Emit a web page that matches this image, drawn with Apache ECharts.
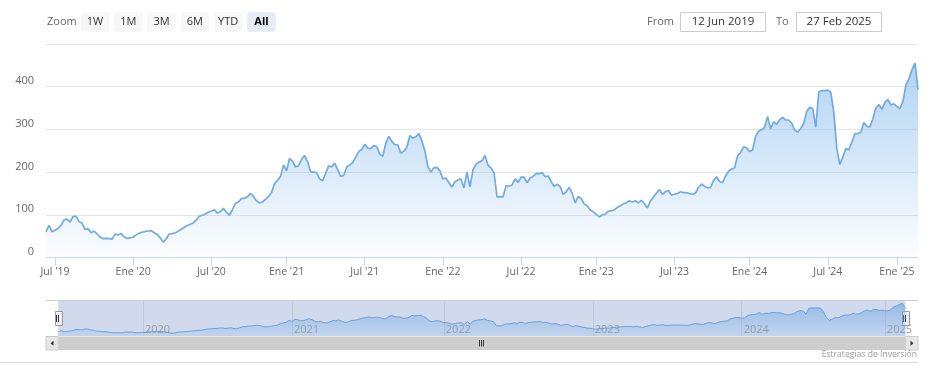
<!DOCTYPE html>
<html><head><meta charset="utf-8">
<script src="https://cdn.jsdelivr.net/npm/echarts@6/dist/echarts.min.js"></script>
<style>html,body{margin:0;padding:0;background:#fff}#c{width:934px;height:386px}</style>
</head><body><div id="c"></div>
<script>
// ---- Data (weekly-ish closing values, ordinal/trading-day axis) ----
const dates = [
'2019-06-12','2019-06-19','2019-06-26',
'2019-07-03','2019-07-10','2019-07-17','2019-07-24','2019-07-31','2019-08-07','2019-08-14','2019-08-21','2019-08-28','2019-09-04','2019-09-11','2019-09-18','2019-09-25','2019-10-02','2019-10-09','2019-10-16','2019-10-23','2019-10-30','2019-11-06','2019-11-13','2019-11-20','2019-11-27','2019-12-04','2019-12-11','2019-12-18','2019-12-26',
'2020-01-02','2020-01-09','2020-01-16','2020-01-23','2020-01-30','2020-02-06','2020-02-13','2020-02-20','2020-02-27','2020-03-05','2020-03-12','2020-03-19','2020-03-26','2020-04-02','2020-04-09','2020-04-16','2020-04-23','2020-04-30','2020-05-07','2020-05-14','2020-05-21','2020-05-28','2020-06-04','2020-06-11','2020-06-18','2020-06-25',
'2020-07-05','2020-07-12','2020-07-19','2020-07-27','2020-08-03','2020-08-10','2020-08-18','2020-08-25','2020-09-02','2020-09-09','2020-09-16','2020-09-24','2020-10-01','2020-10-08','2020-10-16','2020-10-23','2020-10-30','2020-11-07','2020-11-14','2020-11-22','2020-11-29','2020-12-06','2020-12-14','2020-12-21','2020-12-29',
'2021-01-05','2021-01-12','2021-01-19','2021-01-26','2021-02-02','2021-02-09','2021-02-16','2021-02-23','2021-03-02','2021-03-09','2021-03-16','2021-03-23','2021-03-30','2021-04-06','2021-04-13','2021-04-20','2021-04-27','2021-05-04','2021-05-11','2021-05-18','2021-05-25','2021-06-01','2021-06-08','2021-06-15','2021-06-22','2021-06-29',
'2021-07-06','2021-07-13','2021-07-20','2021-07-27','2021-08-03','2021-08-10','2021-08-17','2021-08-24','2021-08-31','2021-09-07','2021-09-14','2021-09-21','2021-09-28','2021-10-05','2021-10-12','2021-10-19','2021-10-26','2021-11-02','2021-11-09','2021-11-16','2021-11-23','2021-11-30','2021-12-07','2021-12-14','2021-12-21','2021-12-28',
'2022-01-05','2022-01-12','2022-01-19','2022-01-26','2022-02-02','2022-02-09','2022-02-16','2022-02-23','2022-03-02','2022-03-09','2022-03-16','2022-03-23','2022-03-30','2022-04-06','2022-04-13','2022-04-20','2022-04-27','2022-05-04','2022-05-11','2022-05-18','2022-05-25','2022-06-01','2022-06-08','2022-06-15','2022-06-22','2022-06-29',
'2022-07-06','2022-07-13','2022-07-20','2022-07-27','2022-08-03','2022-08-10','2022-08-17','2022-08-24','2022-08-31','2022-09-07','2022-09-14','2022-09-21','2022-09-28','2022-10-05','2022-10-12','2022-10-19','2022-10-26','2022-11-02','2022-11-09','2022-11-16','2022-11-23','2022-11-30','2022-12-07','2022-12-14','2022-12-23',
'2023-01-02','2023-01-09','2023-01-16','2023-01-23','2023-01-30','2023-02-06','2023-02-13','2023-02-20','2023-02-27','2023-03-06','2023-03-13','2023-03-20','2023-03-27','2023-04-03','2023-04-10','2023-04-17','2023-04-24','2023-05-01','2023-05-08','2023-05-15','2023-05-22','2023-05-29','2023-06-05','2023-06-12','2023-06-19','2023-06-26',
'2023-07-04','2023-07-11','2023-07-18','2023-07-26','2023-08-02','2023-08-09','2023-08-17','2023-08-24','2023-08-31','2023-09-08','2023-09-15','2023-09-22','2023-09-29','2023-10-06','2023-10-14','2023-10-21','2023-10-28','2023-11-05','2023-11-12','2023-11-19','2023-11-27','2023-12-04','2023-12-11','2023-12-19','2023-12-26',
'2024-01-02','2024-01-09','2024-01-16','2024-01-23','2024-01-30','2024-02-06','2024-02-13','2024-02-20','2024-02-27','2024-03-05','2024-03-12','2024-03-19','2024-03-26','2024-04-02','2024-04-09','2024-04-16','2024-04-23','2024-04-30','2024-05-07','2024-05-14','2024-05-21','2024-05-28','2024-06-04','2024-06-11','2024-06-18','2024-06-25',
'2024-07-05','2024-07-13','2024-07-21','2024-07-29','2024-08-06','2024-08-14','2024-08-22','2024-08-30','2024-09-07','2024-09-15','2024-09-23','2024-10-01','2024-10-09','2024-10-17','2024-10-25','2024-11-02','2024-11-10','2024-11-18','2024-11-26','2024-12-04','2024-12-12','2024-12-20','2024-12-28',
'2025-01-06','2025-01-13','2025-01-20','2025-01-27','2025-02-03','2025-02-10','2025-02-18','2025-02-27'
];
const prices = [
60,75,60,
64,68,75,88,90,83,96,97,84,80,66,67,58,62,55,48,44,45,44,43,55,53,56,48,45,46,
48,53,57,59,61,62,63,58,54,46,36,44,55,56,58,62,66,71,75,78,81,88,97,99,102,106,
109,112,104,107,115,106,99,112,127,130,138,139,142,150,143,133,128,130,136,143,152,173,181,190,217,
203,232,225,212,215,230,239,224,201,200,199,184,180,197,215,212,221,206,190,192,212,217,222,235,248,253,
265,256,255,262,260,242,237,268,284,272,264,264,244,249,258,285,280,283,290,273,250,213,200,210,211,203,
184,186,175,165,177,182,184,163,200,165,205,218,223,227,239,216,210,198,142,142,142,168,167,170,184,176,
188,188,175,186,190,197,196,199,189,191,178,166,172,166,148,154,164,150,128,143,138,125,121,111,107,
101,95,100,102,108,109,112,117,121,126,128,133,130,133,128,134,126,116,132,141,151,159,148,154,157,146,
148,150,154,152,152,150,148,151,164,172,167,163,164,180,189,178,175,191,202,207,210,238,246,259,257,
248,252,284,296,299,305,330,301,318,312,323,328,322,322,315,298,294,302,314,342,352,349,305,388,391,391,
392,387,340,255,218,235,255,252,270,290,290,294,316,307,306,325,350,358,347,364,370,357,360,
354,349,366,405,418,440,455,393
];
const monthNames = ['Ene','Feb','Mar','Abr','May','Jun','Jul','Ago','Sep','Oct','Nov','Dic'];
const labelMonths = [1, 7];
const rangeButtons = ['1W','1M','3M','6M','YTD','All'];
const selectedButton = 'All';
const zoomLabel = 'Zoom';
const fromText = 'From', toText = 'To';
const fromDate = '12 Jun 2019', toDate = '27 Feb 2025';
const creditText = 'Estrategias de Inversión';

// ---- helpers ----
const FONT = '"Open Sans", "DejaVu Sans", sans-serif';
const mon = i => +dates[i].slice(5, 7);
function isHalfYearStart(i) {
  return i > 0 && labelMonths.indexOf(mon(i)) >= 0 && mon(i - 1) !== mon(i);
}
function isYearStart(i) {
  return i > 0 && dates[i].slice(0, 4) !== dates[i - 1].slice(0, 4);
}

const chart = echarts.init(document.getElementById('c'), null, { renderer: 'canvas' });

// range selector + inputs + navigator chrome
const graphics = [];
graphics.push({ type: 'text', style: { text: zoomLabel, x: 47, y: 22, font: '11px ' + FONT, fill: '#666666', textVerticalAlign: 'middle', verticalAlign: 'middle' } });
rangeButtons.forEach((b, k) => {
  const x0 = 80.7 + 33.3 * k;
  const sel = b === selectedButton;
  graphics.push({ type: 'rect', shape: { x: x0, y: 12.3, width: 28.6, height: 19.4, r: 2 }, style: { fill: sel ? '#e6ebf5' : '#f7f7f7' } });
  graphics.push({ type: 'text', style: { text: b, x: x0 + 14.3, y: 22, font: (sel ? 'bold ' : '') + '11px ' + FONT, fill: sel ? '#000000' : '#333333', textAlign: 'center', align: 'center', textVerticalAlign: 'middle', verticalAlign: 'middle' } });
});
graphics.push({ type: 'text', style: { text: fromText, x: 647, y: 22, font: '11px ' + FONT, fill: '#666666', textVerticalAlign: 'middle', verticalAlign: 'middle' } });
graphics.push({ type: 'rect', shape: { x: 680.5, y: 12.5, width: 85, height: 19 }, style: { fill: '#ffffff', stroke: '#cccccc', lineWidth: 1 } });
graphics.push({ type: 'text', style: { text: fromDate, x: 723, y: 22, font: '11.5px ' + FONT, fill: '#333333', textAlign: 'center', align: 'center', textVerticalAlign: 'middle', verticalAlign: 'middle' } });
graphics.push({ type: 'text', style: { text: toText, x: 776, y: 22, font: '11px ' + FONT, fill: '#666666', textVerticalAlign: 'middle', verticalAlign: 'middle' } });
graphics.push({ type: 'rect', shape: { x: 796.5, y: 12.5, width: 85, height: 19 }, style: { fill: '#ffffff', stroke: '#cccccc', lineWidth: 1 } });
graphics.push({ type: 'text', style: { text: toDate, x: 839, y: 22, font: '11.5px ' + FONT, fill: '#333333', textAlign: 'center', align: 'center', textVerticalAlign: 'middle', verticalAlign: 'middle' } });

// navigator outline + scrollbar
graphics.push({ type: 'line', shape: { x1: 46, y1: 300.5, x2: 918, y2: 300.5 }, style: { stroke: '#cccccc', lineWidth: 1 } });
graphics.push({ type: 'rect', shape: { x: 58.3, y: 336.5, width: 847, height: 13.5 }, style: { fill: '#cdcdcd' } });
graphics.push({ type: 'rect', shape: { x: 46, y: 336.5, width: 12.3, height: 13.5 }, style: { fill: '#e6e6e6', stroke: '#cccccc', lineWidth: 1 } });
graphics.push({ type: 'rect', shape: { x: 905.3, y: 336.5, width: 12.7, height: 13.5 }, style: { fill: '#e6e6e6', stroke: '#cccccc', lineWidth: 1 } });
graphics.push({ type: 'polygon', shape: { points: [[50.5, 343.2], [53.5, 340.7], [53.5, 345.7]] }, style: { fill: '#333333' } });
graphics.push({ type: 'polygon', shape: { points: [[913.5, 343.2], [910.5, 340.7], [910.5, 345.7]] }, style: { fill: '#333333' } });
[479.5, 481.5, 483.5].forEach(x => graphics.push({ type: 'line', shape: { x1: x, y1: 340, x2: x, y2: 346.5 }, style: { stroke: '#333333', lineWidth: 1 } }));
[58.3, 905.3].forEach(cx => {
  graphics.push({ type: 'rect', shape: { x: Math.round(cx - 3.5) + 0.5, y: 311.5, width: 7, height: 14 }, style: { fill: '#f2f2f2', stroke: '#999999', lineWidth: 1 } });
  graphics.push({ type: 'line', shape: { x1: Math.round(cx) - 1.5, y1: 315, x2: Math.round(cx) - 1.5, y2: 322 }, style: { stroke: '#333333', lineWidth: 1 } });
  graphics.push({ type: 'line', shape: { x1: Math.round(cx) + 0.5, y1: 315, x2: Math.round(cx) + 0.5, y2: 322 }, style: { stroke: '#333333', lineWidth: 1 } });
});
graphics.push({ type: 'text', style: { text: creditText, x: 917, y: 355, font: '8.6px ' + FONT, fill: '#999999', textAlign: 'right', align: 'right', textVerticalAlign: 'middle', verticalAlign: 'middle' } });
graphics.push({ type: 'line', shape: { x1: 0, y1: 362.5, x2: 918, y2: 362.5 }, style: { stroke: '#d8d8d8', lineWidth: 1 } });

const option = {
  animation: false,
  backgroundColor: '#ffffff',
  grid: [
    { left: 46, right: 16, top: 44, height: 213.5, containLabel: false },
    { left: 58.3, right: 28.7, top: 301, height: 35, show: true, backgroundColor: '#d1daed', borderWidth: 0 }
  ],
  xAxis: [
    {
      type: 'category', gridIndex: 0, data: dates, boundaryGap: false,
      axisLine: { lineStyle: { color: '#ccd6eb' } },
      axisTick: { interval: i => isHalfYearStart(i), length: 8, lineStyle: { color: '#ccd6eb' } },
      axisLabel: {
        interval: i => isHalfYearStart(i),
        formatter: v => monthNames[+v.slice(5, 7) - 1] + " '" + v.slice(2, 4),
        color: '#666666', fontSize: 10.5, fontFamily: FONT, margin: 9
      },
      splitLine: { show: false }
    },
    {
      type: 'category', gridIndex: 1, data: dates, boundaryGap: false,
      axisLine: { show: false }, axisTick: { show: false },
      axisLabel: {
        inside: true, interval: i => isYearStart(i), formatter: v => v.slice(0, 4),
        align: 'left', padding: [0, 0, 0, 2], color: '#999999', fontSize: 11, fontFamily: FONT,
        margin: 1, verticalAlign: 'bottom'
      },
      splitLine: { show: true, interval: i => isYearStart(i), lineStyle: { color: '#c0c9db', width: 1 } }
    }
  ],
  yAxis: [
    {
      type: 'value', gridIndex: 0, min: 0, max: 500, interval: 100,
      axisLine: { show: false }, axisTick: { show: false },
      axisLabel: { color: '#666666', fontSize: 11, fontFamily: FONT, margin: 12, verticalAlign: 'bottom', showMaxLabel: false },
      splitLine: { lineStyle: { color: '#e6e6e6', width: 1 } }
    },
    { type: 'value', gridIndex: 1, min: 0, max: v => v.max * 1.07, show: false, splitLine: { show: false } }
  ],
  series: [
    {
      type: 'line', xAxisIndex: 0, yAxisIndex: 0, data: prices, symbol: 'none', silent: true,
      lineStyle: { color: '#72abe3', width: 1.7 },
      areaStyle: {
        color: new echarts.graphic.LinearGradient(0, 0, 0, 1, [
          { offset: 0, color: 'rgba(124,181,236,0.85)' },
          { offset: 1, color: 'rgba(124,181,236,0.03)' }
        ])
      }
    },
    {
      type: 'line', xAxisIndex: 1, yAxisIndex: 1, data: prices, symbol: 'none', silent: true,
      lineStyle: { color: '#6a9fdb', width: 1 },
      areaStyle: {
        color: new echarts.graphic.LinearGradient(0, 0, 0, 1, [
          { offset: 0, color: 'rgba(110,160,225,0.85)' },
          { offset: 1, color: 'rgba(124,181,236,0.25)' }
        ])
      }
    }
  ],
  graphic: graphics
};
chart.setOption(option);
</script>
</body></html>
